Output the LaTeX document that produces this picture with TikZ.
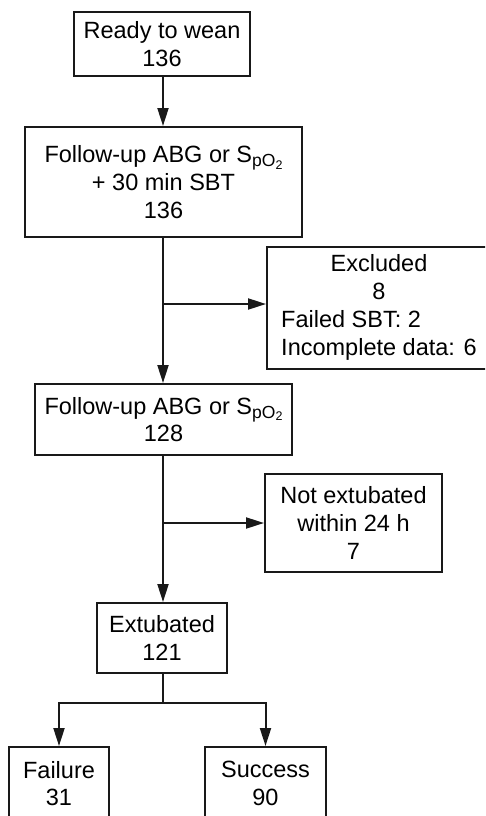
\documentclass[tikz,border=0pt]{standalone}
\usepackage{fontspec}
\setmainfont{Liberation Sans}
\usetikzlibrary{arrows.meta}
\tikzset{
  box/.style={draw=black!90, line width=2pt, rectangle, inner sep=0pt, align=center,
    font=\fontsize{23.5}{27.7}\selectfont},
  conn/.style={draw=black!90, line width=2pt},
  arr/.style={conn, -{Triangle[length=18pt,width=11pt]}},
}
\newcommand{\spo}{S\raisebox{-4pt}{\fontsize{17.5}{17.5}\selectfont pO\raisebox{-2.5pt}{\fontsize{12.5}{12.5}\selectfont 2}}}
\begin{document}
\begin{tikzpicture}[x=1pt,y=-1pt]
\useasboundingbox[fill=white] (0,0) rectangle (485,816);
\clip (0,0) rectangle (485,816);
\node[box, minimum width=176pt, minimum height=64pt] (ready) at (162,44) {Ready to wean\\136};
\node[box, minimum width=277pt, minimum height=110pt] (fu1) at (163.5,182) {Follow-up ABG or \spo\\+ 30 min SBT\\136};
\node[box, minimum width=224pt, minimum height=122pt] (excl) at (379,308) {\begin{tabular}{@{}l@{}}\multicolumn{1}{c}{Excluded}\\\multicolumn{1}{c}{8}\\Failed SBT: 2\\Incomplete data: 6\end{tabular}};
\node[box, minimum width=257pt, minimum height=71pt] (fu2) at (163.5,419.5) {Follow-up ABG or \spo\\128};
\node[box, minimum width=177pt, minimum height=98pt] (notext) at (353.5,523) {Not extubated\\within 24 h\\7};
\node[box, minimum width=130pt, minimum height=70pt] (ext) at (162,638) {Extubated\\121};
\node[box, minimum width=100pt, minimum height=73pt] (fail) at (59,783.5) {Failure\\31};
\node[box, minimum width=121pt, minimum height=73pt] (succ) at (265.5,783.5) {Success\\90};

\coordinate (j1) at (163,304);
\coordinate (j2) at (163,523);
\coordinate (j3) at (163,703);
\draw[arr] (ready.south -| 163,0) -- (fu1.north -| 163,0);
\draw[arr] (fu1.south -| 163,0) -- (fu2.north -| 163,0);
\draw[arr] (j1) -- (excl.west |- j1);
\draw[arr] (fu2.south -| 163,0) -- (ext.north -| 163,0);
\draw[arr] (j2) -- (notext.west |- j2);
\draw[conn] (ext.south -| 163,0) -- (j3);
\draw[arr] (j3) -| (fail.north);
\draw[arr] (j3) -| (succ.north);
\end{tikzpicture}
\end{document}
